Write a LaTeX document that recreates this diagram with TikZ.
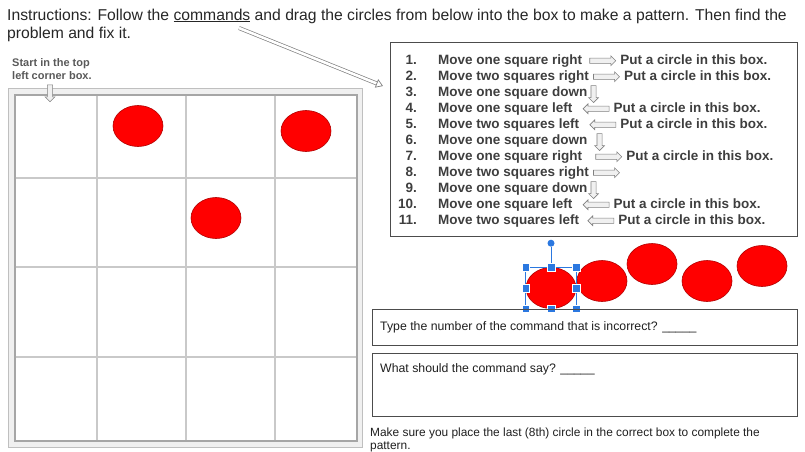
\documentclass[tikz,border=0pt]{standalone}
\usepackage{fontspec}
\setmainfont{Liberation Sans}
\usetikzlibrary{shapes.geometric,shapes.arrows,positioning,arrows.meta}
\definecolor{txtgray}{HTML}{3E3E3E}
\definecolor{gridgray}{HTML}{C9C9C9}
\definecolor{handleblue}{HTML}{2B78E0}

\begin{document}
\begin{tikzpicture}[x=1pt,y=-1pt]
\tikzstyle{every node}=[inner sep=0pt]
\tikzstyle{title}=[font=\fontsize{15.7}{18}\selectfont, text=black!85, anchor=base west]
\tikzstyle{cmdtext}=[font=\bfseries\fontsize{13.5}{15}\selectfont, text=txtgray, anchor=base west, text height=9.5pt, text depth=3pt]
\tikzstyle{qtext}=[font=\fontsize{12.3}{13}\selectfont, text=black!88, anchor=base west]
\tikzstyle{box}=[draw=black!70, line width=.8pt, anchor=north west]
\tikzstyle{dot}=[ellipse, draw=red!70!black, line width=.6pt, fill=red, minimum width=50pt, minimum height=41pt]
\tikzstyle{rarrow}=[single arrow, draw=gray, fill=gray!12, line width=.6pt, minimum height=26pt, inner ysep=2.3pt, single arrow head extend=2.3pt]
\tikzstyle{larrow}=[rarrow, shape border rotate=180]
\tikzstyle{darrow}=[single arrow, draw=gray, fill=gray!12, line width=.6pt, minimum height=17pt, inner xsep=2.3pt, single arrow head extend=2.3pt, shape border rotate=270]
\tikzstyle{hollow}=[draw=gray, line width=.7pt, double=white, double distance=2.6pt, -{Triangle[open, length=7pt, width=9pt]}]
\tikzstyle{handle}=[rectangle, fill=handleblue, draw=white, line width=.3pt, minimum size=7.5pt]
\useasboundingbox (0,0) rectangle (805,451);

% instructions
\node[title] (t1) at (7,20) {Instructions: Follow the \underline{commands} and drag the circles from below into the box to make a pattern. Then find the};
\node[title] (t2) at (7,38) {problem and fix it.};

% grid
\draw[gray!50, line width=1.4pt, fill=gray!12] (8.5,88.5) rectangle (362.5,447.5);
\draw[gray!70, line width=1.4pt, fill=white] (15,95) rectangle (357,441);
\foreach \x in {97,186,275} \draw[gridgray, line width=1.6pt] (\x,95.7) -- (\x,440.3);
\foreach \y in {178,267,357} \draw[gridgray, line width=1.6pt] (15.7,\y) -- (356.3,\y);
\node[font=\bfseries\fontsize{11}{13}\selectfont, text=black!65, align=left, anchor=north west] (start) at (12,58) {Start in the top\\left corner box.};
\node[darrow] (startarr) at (50,92) {};

% commands box
\node[box, minimum width=407pt, minimum height=194pt] (cmdbox) at (390,42) {};
\coordinate (cmdend) at (239,28);
\coordinate (tip) at (383,86);
\draw[hollow] (cmdend) -- (tip);
\foreach \i in {1,...,11} \node[cmdtext, anchor=base east] (n\i) at (417,48+16*\i) {\i.};
\foreach \i/\t in {1/Move one square right, 2/Move two squares right, 3/Move one square down,
  4/Move one square left, 5/Move two squares left, 6/Move one square down,
  7/Move one square right, 8/Move two squares right, 9/Move one square down,
  10/Move one square left, 11/Move two squares left}
  \node[cmdtext] (m\i) at (438,48+16*\i) {\t};
\foreach \i/\g in {1/7pt,2/4pt,7/13pt,8/4pt} \node[rarrow, right=\g of m\i] (a\i) {};
\foreach \i/\g in {4/10pt,5/10pt,10/10pt,11/8pt} \node[larrow, right=\g of m\i] (a\i) {};
\foreach \i/\g in {3/3pt,6/9pt,9/3pt} \node[darrow, right=\g of m\i] (a\i) {};
\foreach \i in {1,2,4,5,7,10,11} \node[cmdtext, right=4pt of a\i] (p\i) {Put a circle in this box.};

% circles
\node[dot] (c1) at (138,126) {};
\node[dot] (c2) at (306,131) {};
\node[dot] (c3) at (216,218) {};
\node[dot] (c4) at (551,288) {};
\node[dot] (c5) at (602,281) {};
\node[dot] (c6) at (652,264) {};
\node[dot] (c7) at (707,281) {};
\node[dot] (c8) at (762,266) {};

% selection handles
\draw[handleblue, line width=.6pt] (c4.north -| c4.west) rectangle (c4.south -| c4.east);
\node[circle, fill=handleblue, minimum size=7pt] (rot) at ([yshift=24pt]c4.north) {};
\draw[handleblue, line width=.6pt] (c4.north) -- (rot);
\foreach \h in {north,south,east,west} \node[handle] at (c4.\h) {};
\foreach \u in {north,south} \foreach \v in {east,west} \node[handle] at (c4.\u -| c4.\v) {};

% questions
\node[box, minimum width=425pt, minimum height=36pt] (q1) at (372,309) {};
\node[qtext] (q1t) at (380,330) {Type the number of the command that is incorrect? \_\_\_\_\_};
\node[box, minimum width=425pt, minimum height=63pt] (q2) at (372,353) {};
\node[qtext] (q2t) at (380,372) {What should the command say? \_\_\_\_\_};
\node[qtext, font=\fontsize{11.9}{13}\selectfont, anchor=north west, align=left] (note) at (370,428) {Make sure you place the last (8th) circle in the correct box to complete the\\pattern.};
\end{tikzpicture}
\end{document}
